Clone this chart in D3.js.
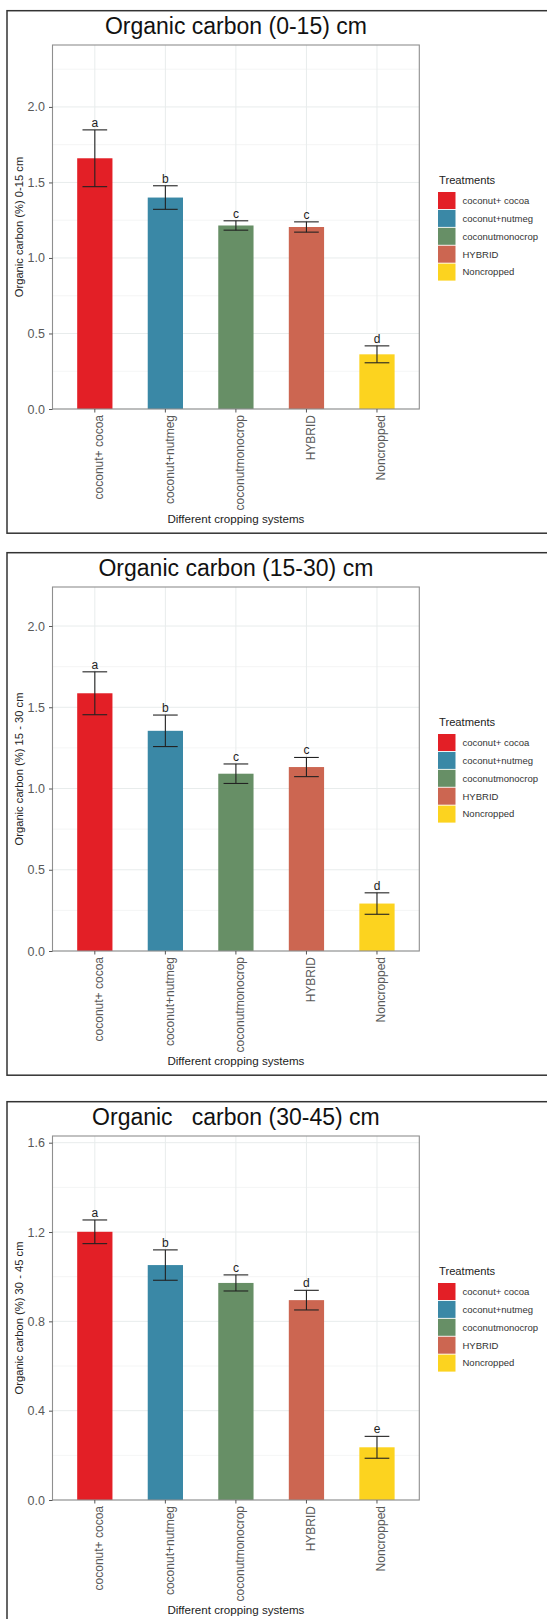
<!DOCTYPE html>
<html lang="en">
<head>
<meta charset="utf-8">
<title>Organic carbon by cropping system</title>
<script src="https://d3js.org/d3.v7.min.js"></script>
<style>
  body { margin: 0; background: #fff; }
  svg text { font-family: "Liberation Sans", Arial, Helvetica, sans-serif; }
  .title { white-space: pre; }
</style>
</head>
<body>
<script>
// categories + legend
var categories = ["coconut+ cocoa", "coconut+nutmeg", "coconutmonocrop", "HYBRID", "Noncropped"];
var colors = ["#e31f26", "#3a88a6", "#678f66", "#cc6651", "#fcd31f"];

// 0-15 cm
var mean1 = [1.66, 1.40, 1.215, 1.205, 0.362];
var err1 = [0.188, 0.078, 0.031, 0.034, 0.056];
var letters1 = ["a", "b", "c", "c", "d"];
var ticks1 = [0, 0.5, 1.0, 1.5, 2.0];

// 15-30 cm
var mean2 = [1.586, 1.355, 1.091, 1.132, 0.292];
var err2 = [0.132, 0.097, 0.06, 0.059, 0.066];
var letters2 = ["a", "b", "c", "c", "d"];
var ticks2 = [0, 0.5, 1.0, 1.5, 2.0];

// 30-45 cm
var mean3 = [1.201, 1.052, 0.972, 0.895, 0.236];
var err3 = [0.053, 0.068, 0.036, 0.044, 0.049];
var letters3 = ["a", "b", "c", "d", "e"];
var ticks3 = [0, 0.4, 0.8, 1.2, 1.6];

var titles = ["Organic carbon (0-15) cm", "Organic carbon (15-30) cm", "Organic   carbon (30-45) cm"];
var yTitles = ["Organic carbon (%) 0-15 cm", "Organic carbon (%) 15 - 30 cm", "Organic carbon (%) 30 - 45 cm"];
var yMax = [2.41, 2.24, 1.63];

var W = 547, H = 1619;
var svg = d3.select("body").append("svg")
    .attr("width", W)
    .attr("height", H);

// panel geometry (same for all three figures)
var plot = {left: 52.5, right: 419.3, top: 45, bottom: 409};
var offsets = [0, 542, 1091];

function drawPanel(k, means, errs, letters, ticks) {
  var g = svg.append("g").attr("transform", "translate(0," + offsets[k] + ")");

  // outer frame of the figure
  g.append("rect")
    .attr("x", 7).attr("y", 10.7)
    .attr("width", 560).attr("height", 522.5)
    .attr("fill", "none")
    .attr("stroke", "#333")
    .attr("stroke-width", 1.5);

  var x = d3.scaleBand()
      .domain(categories)
      .range([plot.left, plot.right])
      .paddingInner(0.5)
      .paddingOuter(0.35);

  var y = d3.scaleLinear()
      .domain([0, yMax[k]])
      .range([plot.bottom, plot.top]);

  // minor + major grid
  var step = ticks[1] - ticks[0];
  var minor = ticks.map(function(t) { return t + step / 2; })
      .filter(function(t) { return t < yMax[k]; });
  g.selectAll(".minor").data(minor).enter().append("line")
    .attr("x1", plot.left).attr("x2", plot.right)
    .attr("y1", function(d) { return y(d); })
    .attr("y2", function(d) { return y(d); })
    .attr("stroke", "#f1f3f3").attr("stroke-width", 0.8);
  g.selectAll(".major").data(ticks).enter().append("line")
    .attr("x1", plot.left).attr("x2", plot.right)
    .attr("y1", function(d) { return y(d); })
    .attr("y2", function(d) { return y(d); })
    .attr("stroke", "#e8ecec").attr("stroke-width", 1);
  g.selectAll(".vgrid").data(categories).enter().append("line")
    .attr("x1", function(d) { return x(d) + x.bandwidth() / 2; })
    .attr("x2", function(d) { return x(d) + x.bandwidth() / 2; })
    .attr("y1", plot.top).attr("y2", plot.bottom)
    .attr("stroke", "#e8ecec").attr("stroke-width", 1);

  // bars
  g.selectAll(".bar").data(categories).enter().append("rect")
    .attr("x", function(d) { return x(d); })
    .attr("width", x.bandwidth())
    .attr("y", function(d, i) { return y(means[i]); })
    .attr("height", function(d, i) { return y(0) - y(means[i]); })
    .attr("fill", function(d, i) { return colors[i]; });

  // error bars
  var cap = x.step() * 0.35 / 2;
  var eb = g.selectAll(".eb").data(categories).enter().append("g")
    .attr("stroke", "#222").attr("stroke-width", 1.1);
  eb.append("line")
    .attr("x1", function(d) { return x(d) + x.bandwidth() / 2; })
    .attr("x2", function(d) { return x(d) + x.bandwidth() / 2; })
    .attr("y1", function(d, i) { return y(means[i] + errs[i]); })
    .attr("y2", function(d, i) { return y(means[i] - errs[i]); });
  eb.append("line")
    .attr("x1", function(d) { return x(d) + x.bandwidth() / 2 - cap; })
    .attr("x2", function(d) { return x(d) + x.bandwidth() / 2 + cap; })
    .attr("y1", function(d, i) { return y(means[i] + errs[i]); })
    .attr("y2", function(d, i) { return y(means[i] + errs[i]); });
  eb.append("line")
    .attr("x1", function(d) { return x(d) + x.bandwidth() / 2 - cap; })
    .attr("x2", function(d) { return x(d) + x.bandwidth() / 2 + cap; })
    .attr("y1", function(d, i) { return y(means[i] - errs[i]); })
    .attr("y2", function(d, i) { return y(means[i] - errs[i]); });

  // significance letters
  g.selectAll(".letter").data(categories).enter().append("text")
    .attr("x", function(d) { return x(d) + x.bandwidth() / 2; })
    .attr("y", function(d, i) { return y(means[i] + errs[i]) - 3; })
    .attr("text-anchor", "middle")
    .attr("font-size", "12px")
    .attr("fill", "#222")
    .text(function(d, i) { return letters[i]; });

  // panel border
  g.append("rect")
    .attr("x", plot.left).attr("y", plot.top)
    .attr("width", plot.right - plot.left)
    .attr("height", plot.bottom - plot.top)
    .attr("fill", "none")
    .attr("stroke", "#8f8f8f")
    .attr("stroke-width", 1.1);

  // y axis
  var ya = g.append("g")
    .attr("transform", "translate(" + plot.left + ",0)")
    .call(d3.axisLeft(y).tickValues(ticks).tickSize(3.5).tickPadding(4)
      .tickFormat(d3.format(".1f")));
  ya.select(".domain").remove();
  ya.selectAll("line").attr("stroke", "#555");
  ya.selectAll("text")
    .attr("font-size", "12.5px")
    .attr("fill", "#595959")
    .attr("font-family", null);

  // x axis
  var xa = g.append("g")
    .attr("transform", "translate(0," + plot.bottom + ")")
    .call(d3.axisBottom(x).tickSize(3.5));
  xa.select(".domain").remove();
  xa.selectAll("line").attr("stroke", "#555");
  xa.selectAll("text")
    .attr("transform", "rotate(-90)")
    .attr("x", -6)
    .attr("y", 8.5)
    .attr("dy", 0)
    .attr("text-anchor", "end")
    .attr("font-size", "12px")
    .attr("fill", "#595959")
    .attr("font-family", null);

  // titles
  g.append("text")
    .attr("class", "title")
    .attr("x", (plot.left + plot.right) / 2)
    .attr("y", 34.3)
    .attr("text-anchor", "middle")
    .attr("font-size", "23px")
    .attr("fill", "#111")
    .text(titles[k]);

  g.append("text")
    .attr("transform", "translate(23," + (plot.top + plot.bottom) / 2 + ") rotate(-90)")
    .attr("text-anchor", "middle")
    .attr("font-size", "11.2px")
    .attr("fill", "#222")
    .text(yTitles[k]);

  g.append("text")
    .attr("x", (plot.left + plot.right) / 2)
    .attr("y", 523.3)
    .attr("text-anchor", "middle")
    .attr("font-size", "11.6px")
    .attr("fill", "#222")
    .text("Different cropping systems");

  // legend
  var lg = g.append("g").attr("transform", "translate(438,0)");
  lg.append("text")
    .attr("x", 1).attr("y", 184)
    .attr("font-size", "11.2px")
    .attr("fill", "#222")
    .text("Treatments");
  var items = lg.selectAll(".key").data(categories).enter().append("g")
    .attr("transform", function(d, i) { return "translate(0," + (192 + i * 17.9) + ")"; });
  items.append("rect")
    .attr("width", 17.5).attr("height", 17)
    .attr("fill", function(d, i) { return colors[i]; });
  items.append("text")
    .attr("x", 24.5).attr("y", 8.5)
    .attr("dy", "0.35em")
    .attr("font-size", "9.5px")
    .attr("fill", "#333")
    .text(function(d) { return d; });
}

drawPanel(0, mean1, err1, letters1, ticks1);
drawPanel(1, mean2, err2, letters2, ticks2);
drawPanel(2, mean3, err3, letters3, ticks3);
</script>
</body>
</html>
